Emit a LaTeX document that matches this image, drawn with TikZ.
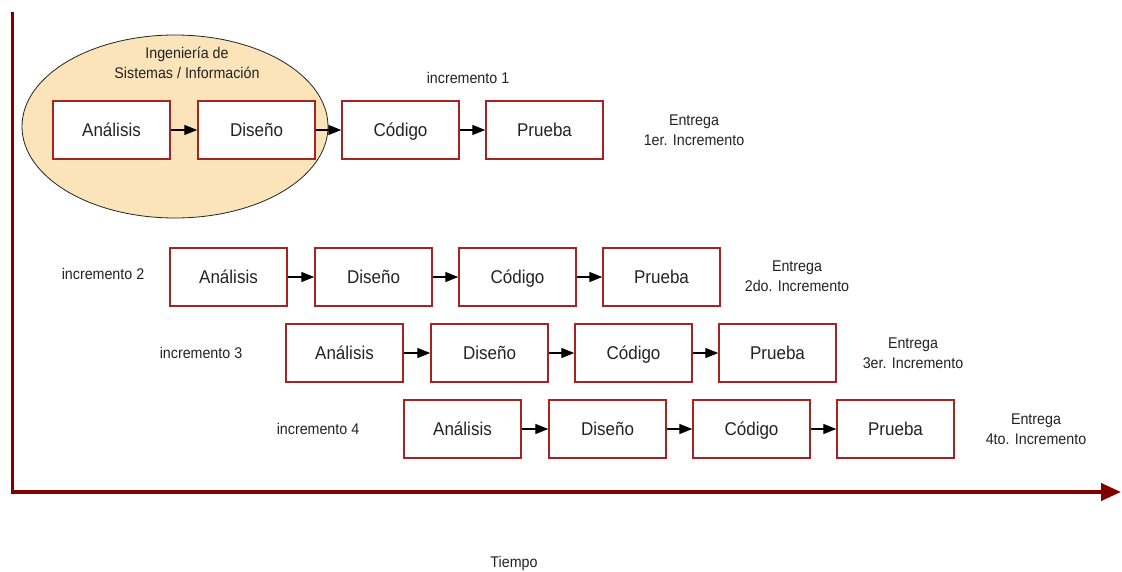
\documentclass[tikz,border=0pt]{standalone}
\usepackage{fontspec}
\setmainfont{Liberation Sans}
\newfontfamily\boxfont[FakeStretch=0.92]{Liberation Sans}
\usetikzlibrary{arrows.meta,shapes.geometric}
\definecolor{boxred}{RGB}{165,35,35}
\definecolor{axisred}{RGB}{128,0,0}
\definecolor{beige}{RGB}{251,228,186}
\definecolor{inkgray}{RGB}{35,35,35}
\tikzset{
  phase/.style={draw=boxred, line width=1.4pt, fill=white, minimum width=117pt,
    minimum height=58pt, inner sep=0pt, text=inkgray,
    text height=13.3pt, text depth=0pt,
    font=\boxfont\fontsize{18.5}{20}\selectfont},
  lbl/.style={text=inkgray, align=center, inner sep=0pt,
    font=\boxfont\fontsize{15.5}{20}\selectfont},
  flow/.style={line width=1.3pt, -{Triangle[length=13pt,width=10pt]}},
  axis/.style={draw=axisred}
}
\begin{document}
\begin{tikzpicture}[x=1pt, y=-1pt]
\useasboundingbox (0,0) rectangle (1122,572);

% time axes
\coordinate (top) at (12,12);
\coordinate (orig) at (12,492);
\coordinate (tend) at (1121,492);
\draw[axis, line width=3pt] (top) -- (orig);
\draw[axis, line width=4pt, -{Triangle[length=20pt,width=17pt]}] ([xshift=-1.5pt]orig) -- (tend);

% engineering ellipse
\node[draw=inkgray, line width=0.8pt, fill=beige, ellipse, minimum width=306pt,
  minimum height=183pt, inner sep=0pt] (eng) at (175,126.5) {};
\node[lbl] (engtxt) at (187,63) {Ingeniería de\\Sistemas / Información};

% increments: left edge of first box, vertical centre
\foreach \r/\x/\y in {1/53/130, 2/170/277, 3/286/353, 4/404/429} {
  \node[phase] (a\r) at (\x+58.5,\y) {Análisis};
  \node[phase] (d\r) at (\x+58.5+145,\y) {Diseño};
  \node[phase] (c\r) at (\x+58.5+289,\y) {Código};
  \node[phase] (p\r) at (\x+58.5+433,\y) {Prueba};
  \draw[flow] (a\r) -- (d\r);
  \draw[flow] (d\r) -- (c\r);
  \draw[flow] (c\r) -- (p\r);
}

\node[lbl] (inc1) at (468,78) {incremento 1};
\node[lbl] (inc2) at (103,274) {incremento 2};
\node[lbl] (inc3) at (201,353) {incremento 3};
\node[lbl] (inc4) at (318,429) {incremento 4};

\node[lbl] (ent1) at (694,130) {Entrega\\1er. Incremento};
\node[lbl] (ent2) at (797,276) {Entrega\\2do. Incremento};
\node[lbl] (ent3) at (913,353) {Entrega\\3er. Incremento};
\node[lbl] (ent4) at (1036,429) {Entrega\\4to. Incremento};

\node[lbl] (time) at (514,563) {Tiempo};
\end{tikzpicture}
\end{document}
